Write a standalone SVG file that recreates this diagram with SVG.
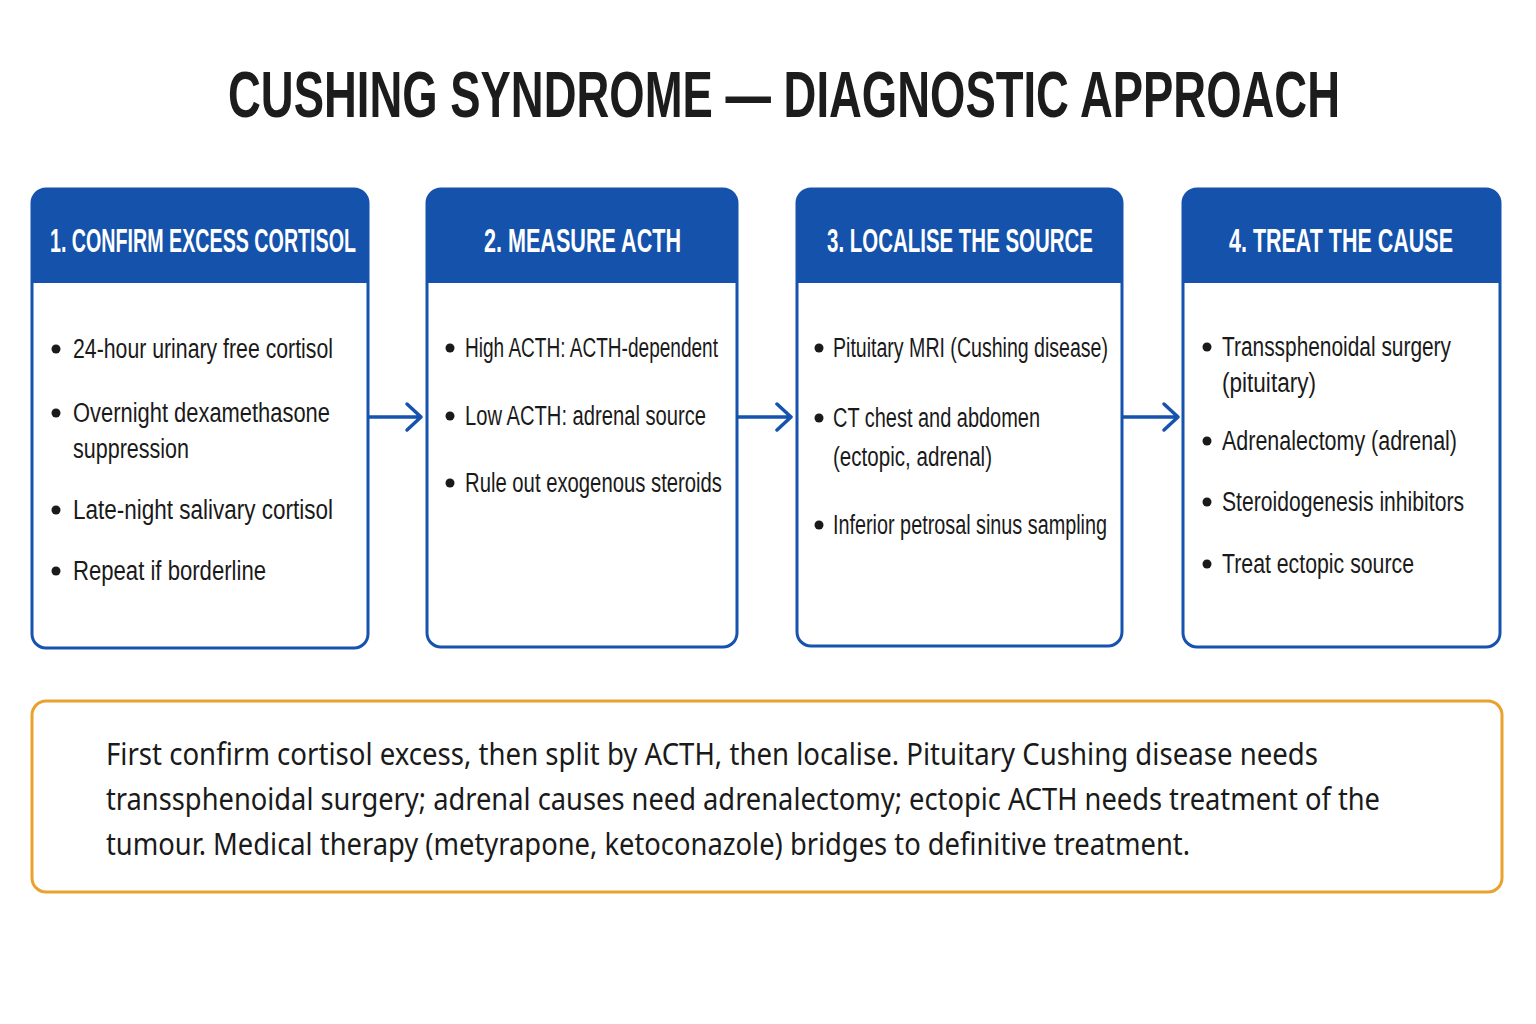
<svg xmlns="http://www.w3.org/2000/svg" width="1536" height="1024" viewBox="0 0 1536 1024">
<style>
.title{font-family:"Liberation Sans",Arial,sans-serif;font-weight:bold;font-size:64px;fill:#1c1c1c}
.hdr{font-family:"Liberation Sans",Arial,sans-serif;font-weight:bold;font-size:34px;fill:#ffffff}
.bul{font-family:"Liberation Sans",Arial,sans-serif;font-size:27px;fill:#1a1a1a}
.note{font-family:"Noto Sans","Open Sans",sans-serif;font-size:31px;fill:#1a1a1a}
.box{fill:#ffffff;stroke:#1653AE;stroke-width:3}
.head{fill:#1452AB}
.dot{fill:#1a1a1a}
.arr{fill:none;stroke:#1653AE;stroke-width:3.5;stroke-linecap:round;stroke-linejoin:round}
</style>
<rect width="1536" height="1024" fill="#ffffff"/>
<text class="title" x="784" y="117" text-anchor="middle" textLength="1112" lengthAdjust="spacingAndGlyphs">CUSHING SYNDROME — DIAGNOSTIC APPROACH</text>

<g id="node1">
<rect class="box" x="32" y="189" width="336" height="459" rx="14"/>
<path class="head" d="M32 283 V203 A14 14 0 0 1 46 189 H354 A14 14 0 0 1 368 203 V283 Z"/>
<text class="hdr" x="50" y="252" textLength="306" lengthAdjust="spacingAndGlyphs">1. CONFIRM EXCESS CORTISOL</text>
<circle class="dot" cx="56" cy="349" r="4.5"/>
<text class="bul" x="73" y="358" textLength="260" lengthAdjust="spacingAndGlyphs">24-hour urinary free cortisol</text>
<circle class="dot" cx="56" cy="413" r="4.5"/>
<text class="bul" x="73" y="422" textLength="257" lengthAdjust="spacingAndGlyphs">Overnight dexamethasone</text>
<text class="bul" x="73" y="458" textLength="116" lengthAdjust="spacingAndGlyphs">suppression</text>
<circle class="dot" cx="56" cy="510" r="4.5"/>
<text class="bul" x="73" y="519" textLength="260" lengthAdjust="spacingAndGlyphs">Late-night salivary cortisol</text>
<circle class="dot" cx="56" cy="571" r="4.5"/>
<text class="bul" x="73" y="580" textLength="193" lengthAdjust="spacingAndGlyphs">Repeat if borderline</text>
</g>

<g id="node2">
<rect class="box" x="427" y="189" width="310" height="458" rx="14"/>
<path class="head" d="M427 283 V203 A14 14 0 0 1 441 189 H723 A14 14 0 0 1 737 203 V283 Z"/>
<text class="hdr" x="484" y="252" textLength="197" lengthAdjust="spacingAndGlyphs">2. MEASURE ACTH</text>
<circle class="dot" cx="450" cy="348" r="4.5"/>
<text class="bul" x="465" y="357" textLength="253" lengthAdjust="spacingAndGlyphs">High ACTH: ACTH-dependent</text>
<circle class="dot" cx="450" cy="416" r="4.5"/>
<text class="bul" x="465" y="425" textLength="241" lengthAdjust="spacingAndGlyphs">Low ACTH: adrenal source</text>
<circle class="dot" cx="450" cy="483" r="4.5"/>
<text class="bul" x="465" y="492" textLength="257" lengthAdjust="spacingAndGlyphs">Rule out exogenous steroids</text>
</g>

<g id="node3">
<rect class="box" x="797" y="189" width="325" height="457" rx="14"/>
<path class="head" d="M797 283 V203 A14 14 0 0 1 811 189 H1108 A14 14 0 0 1 1122 203 V283 Z"/>
<text class="hdr" x="827" y="252" textLength="266" lengthAdjust="spacingAndGlyphs">3. LOCALISE THE SOURCE</text>
<circle class="dot" cx="819" cy="348" r="4.5"/>
<text class="bul" x="833" y="357" textLength="275" lengthAdjust="spacingAndGlyphs">Pituitary MRI (Cushing disease)</text>
<circle class="dot" cx="819" cy="418" r="4.5"/>
<text class="bul" x="833" y="427" textLength="207" lengthAdjust="spacingAndGlyphs">CT chest and abdomen</text>
<text class="bul" x="833" y="466" textLength="159" lengthAdjust="spacingAndGlyphs">(ectopic, adrenal)</text>
<circle class="dot" cx="819" cy="525" r="4.5"/>
<text class="bul" x="833" y="534" textLength="274" lengthAdjust="spacingAndGlyphs">Inferior petrosal sinus sampling</text>
</g>

<g id="node4">
<rect class="box" x="1183" y="189" width="317" height="458" rx="14"/>
<path class="head" d="M1183 283 V203 A14 14 0 0 1 1197 189 H1486 A14 14 0 0 1 1500 203 V283 Z"/>
<text class="hdr" x="1229" y="252" textLength="224" lengthAdjust="spacingAndGlyphs">4. TREAT THE CAUSE</text>
<circle class="dot" cx="1207" cy="347" r="4.5"/>
<text class="bul" x="1222" y="356" textLength="229" lengthAdjust="spacingAndGlyphs">Transsphenoidal surgery</text>
<text class="bul" x="1222" y="392" textLength="94" lengthAdjust="spacingAndGlyphs">(pituitary)</text>
<circle class="dot" cx="1207" cy="441" r="4.5"/>
<text class="bul" x="1222" y="450" textLength="235" lengthAdjust="spacingAndGlyphs">Adrenalectomy (adrenal)</text>
<circle class="dot" cx="1207" cy="502" r="4.5"/>
<text class="bul" x="1222" y="511" textLength="242" lengthAdjust="spacingAndGlyphs">Steroidogenesis inhibitors</text>
<circle class="dot" cx="1207" cy="564" r="4.5"/>
<text class="bul" x="1222" y="573" textLength="192" lengthAdjust="spacingAndGlyphs">Treat ectopic source</text>
</g>

<g id="connectors">
<path class="arr" d="M369 417 H421 M407 404 L421 417 L407 430"/>
<path class="arr" d="M738 417 H791 M777 404 L791 417 L777 430"/>
<path class="arr" d="M1123 417 H1178 M1164 404 L1178 417 L1164 430"/>
</g>

<g id="note">
<rect x="32" y="701" width="1470" height="191" rx="14" fill="#ffffff" stroke="#E9A22E" stroke-width="3"/>
<text class="note" x="106" y="765" textLength="1212" lengthAdjust="spacingAndGlyphs">First confirm cortisol excess, then split by ACTH, then localise. Pituitary Cushing disease needs</text>
<text class="note" x="106" y="810" textLength="1274" lengthAdjust="spacingAndGlyphs">transsphenoidal surgery; adrenal causes need adrenalectomy; ectopic ACTH needs treatment of the</text>
<text class="note" x="106" y="855" textLength="1084" lengthAdjust="spacingAndGlyphs">tumour. Medical therapy (metyrapone, ketoconazole) bridges to definitive treatment.</text>
</g>
</svg>
